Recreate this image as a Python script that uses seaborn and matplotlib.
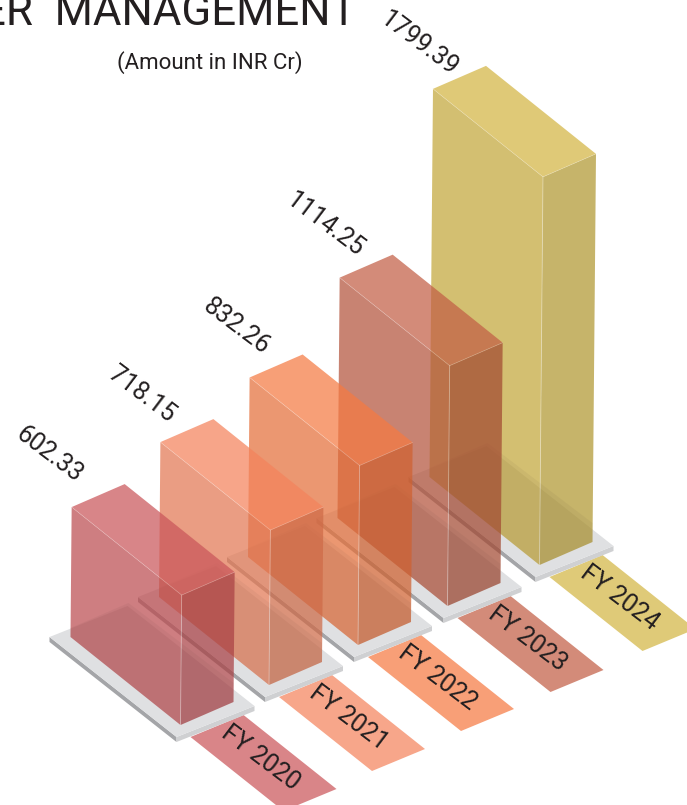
import numpy as np
import matplotlib
matplotlib.use("Agg")
import matplotlib.pyplot as plt
import seaborn as sns

years = ["FY 2020", "FY 2021", "FY 2022", "FY 2023", "FY 2024"]
values = [602.33, 718.15, 832.26, 1114.25, 1799.39]
value_labels = ["602.33", "718.15", "832.26", "1114.25", "1799.39"]
hex_colors = ["#d98588", "#f7a68a", "#f89f77", "#d38b79", "#dfca78"]

sns.set_theme(style="white")
plt.rcParams["font.family"] = ["Roboto", "DejaVu Sans"]
palette = sns.color_palette(hex_colors)

W, H = 687, 805
fig = plt.figure(figsize=(W / 100, H / 100), dpi=100, facecolor="white")
ax = fig.add_axes([0, 0, 1, 1])
ax.set_xlim(0, W)
ax.set_ylim(H, 0)
ax.axis("off")

PX_PER_UNIT = 0.2157
ALPHA = 0.72
TEXT = "#231f20"
WIDTH = np.array([53.0, -23.0])
DEPTH = np.array([-110.0, -88.0])
BASE_X = [180.5, 269.0, 358.0, 447.5, 539.5]
BASE_Y = [725.0, 685.0, 645.0, 606.0, 565.0]
RIB = np.array([93.0, 74.0])
label_offsets = [(-22, -53), (-19, -48), (-13, -51), (-14, -53), (-14, -45)]


def seen_through(rgb, shade):
    """Colour that, at ALPHA over white, shows as rgb * shade."""
    target = np.array(rgb) * shade
    return tuple(np.clip((target - (1 - ALPHA)) / ALPHA, 0, 1))


def poly(points, color, alpha=1.0, z=1):
    pts = np.array(points)
    ax.fill(pts[:, 0], pts[:, 1], color=color, alpha=alpha, lw=0, zorder=z)


for i in reversed(range(len(values))):
    z = (len(values) - i) * 10
    F = np.array([BASE_X[i], BASE_Y[i]])
    h = values[i] * PX_PER_UNIT
    lean = np.array([0.009 * h, -h])
    col = palette[i]

    # ribbon with the year
    a, b = F + (10, 12), F + (63, -10)
    poly([a, b, b + RIB, a + RIB], col, z=z)
    ax.text(*(F + (80, 33)), years[i], rotation=-37, rotation_mode="anchor",
            ha="center", va="center", fontsize=18, color=TEXT, zorder=z + 7)

    # grey plinth
    sf, sl, sr = F + (-4, 12), F + (-131, -88), F + (74, -19)
    sb = sl + (sr - sf)
    down = np.array([0, 5])
    poly([sl, sf, sf + down, sl + down], "#a4a5a8", z=z + 1)
    poly([sf, sr, sr + down, sf + down], "#cfd0d2", z=z + 1)
    poly([sl, sb, sr, sf], "#dfe0e2", z=z + 1)

    # box
    L, R = F + DEPTH, F + WIDTH
    Ft, Lt, Rt = F + lean, L + lean, R + lean
    Bt = Lt + WIDTH
    poly([L, Lt, Ft, F], seen_through(col, 0.95), ALPHA, z + 3)
    poly([F, Ft, Rt, R], seen_through(col, 0.89), ALPHA, z + 3)
    poly([Lt, Bt, Rt, Ft], seen_through(col, 1.0), ALPHA, z + 3)
    # inner floor seen through the faces
    poly([F + (-110, -97), F + (-52, -122), F + (53, -42), R, F, L],
         "#3a2a2a", 0.05, z + 4)
    # pale edges
    ax.plot(*np.array([F, Ft]).T, color="white", alpha=0.4, lw=0.6, zorder=z + 5)
    ax.plot(*np.array([Lt, Ft, Rt]).T, color="white", alpha=0.3, lw=0.5, zorder=z + 5)

    # value label
    c = Lt + label_offsets[i]
    ax.text(c[0], c[1], value_labels[i], rotation=-37, rotation_mode="anchor",
            ha="center", va="center", fontsize=18, color=TEXT, zorder=200)

ax.text(357, 25, "ER  MANAGEMENT", ha="right", va="baseline", fontsize=31.5,
        color=TEXT, zorder=200)
ax.text(210, 63, "(Amount in INR Cr)", ha="center", va="center", fontsize=16,
        color=TEXT, zorder=200)

fig.savefig("out.png", dpi=100, facecolor="white")
